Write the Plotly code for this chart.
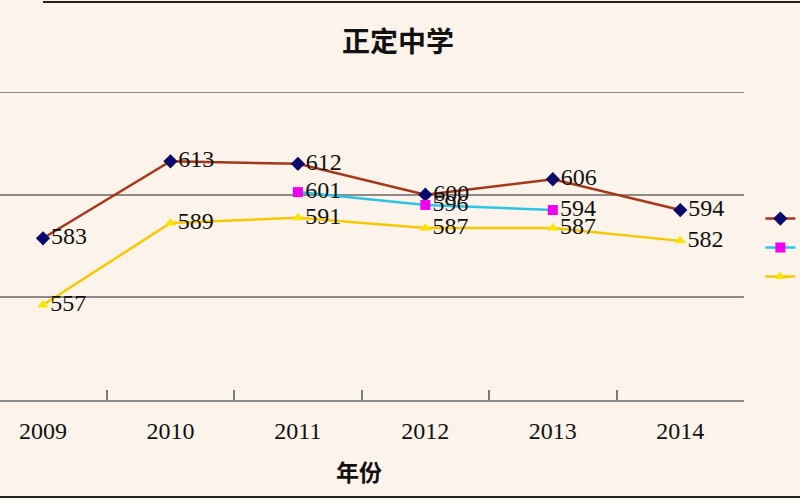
import plotly.graph_objects as go

years = ["2009", "2010", "2011", "2012", "2013", "2014"]
series_a = [583, 613, 612, 600, 606, 594]
series_b = [None, None, 601, 596, 594, None]
series_c = [557, 589, 591, 587, 587, 582]
names = ["统招线", "择校线", "最低线"]
title = "正定中学"
x_title = "年份"

bg = "#FCF3EA"
label_font = dict(family="Liberation Serif, DejaVu Serif, serif", size=24, color="#111111")

fig = go.Figure()
fig.add_trace(go.Scatter(
    x=years, y=series_a, name=names[0], mode="lines+markers+text",
    line=dict(color="#A5371B", width=2.5),
    marker=dict(symbol="diamond", size=11, color="#0A0A6B"),
    text=[str(v) for v in series_a], textposition="middle right",
    textfont=label_font, cliponaxis=False,
))
fig.add_trace(go.Scatter(
    x=years, y=series_b, name=names[1], mode="lines+markers+text",
    line=dict(color="#2EC4E8", width=2.5),
    marker=dict(symbol="square", size=10, color="#F000F0"),
    text=["" if v is None else str(v) for v in series_b], textposition="middle right",
    textfont=label_font, cliponaxis=False, connectgaps=False,
))
fig.add_trace(go.Scatter(
    x=years, y=series_c, name=names[2], mode="lines+markers+text",
    line=dict(color="#F5C800", width=2.5),
    marker=dict(symbol="triangle-up", size=10, color="#F8E400"),
    text=[str(v) for v in series_c], textposition="middle right",
    textfont=label_font, cliponaxis=False,
))

fig.update_layout(
    width=800, height=500,
    paper_bgcolor=bg, plot_bgcolor=bg,
    margin=dict(l=0, r=56, t=92, b=100, autoexpand=False),
    showlegend=True,
    legend=dict(x=1.022, xanchor="left", y=0.495, yanchor="middle",
                bgcolor="rgba(0,0,0,0)", borderwidth=0,
                font=dict(family="Noto Sans CJK SC", size=20, color="#111111"),
                tracegroupgap=0),
    xaxis=dict(
        type="category", range=[-0.3375, 5.5], tickson="boundaries",
        ticks="inside", ticklen=10, tickcolor="#7a7a7a", tickwidth=2,
        showline=True, linecolor="#8a8a8a", linewidth=2,
        showgrid=False, zeroline=False,
        tickfont=dict(family="Liberation Serif, DejaVu Serif, serif", size=24, color="#111111"),
        ticklabelstandoff=8,
    ),
    yaxis=dict(
        range=[520, 640], dtick=40, tick0=520, showticklabels=False,
        showgrid=True, gridcolor="#8f8a86", gridwidth=2,
        zeroline=False, showline=False, ticks="",
    ),
    annotations=[
        dict(text=f"<b>{title}</b>", xref="paper", yref="paper",
             x=(398 - 0) / 744, y=(400 - 40) / 308, xanchor="center", yanchor="middle",
             showarrow=False, font=dict(family="Noto Sans CJK SC", size=28, color="#111111")),
        dict(text=f"<b>{x_title}</b>", xref="paper", yref="paper",
             x=359 / 744, y=(400 - 471) / 308, xanchor="center", yanchor="middle",
             showarrow=False, font=dict(family="Noto Sans CJK SC", size=23, color="#111111")),
    ],
    shapes=[
        dict(type="line", xref="paper", yref="y", x0=0, x1=1, y0=640, y1=640,
             line=dict(color="#8f8a86", width=2)),
        dict(type="line", xref="paper", yref="paper", x0=43 / 744, x1=800 / 744,
             y0=(400 - 2) / 308, y1=(400 - 2) / 308, line=dict(color="#222222", width=2)),
        dict(type="line", xref="paper", yref="paper", x0=0, x1=800 / 744,
             y0=(400 - 497) / 308, y1=(400 - 497) / 308, line=dict(color="#222222", width=2)),
    ],
)

fig.write_html("out.html",
               config={"displayModeBar": False},
               post_script="document.body.style.margin='0';document.body.style.padding='0';")
